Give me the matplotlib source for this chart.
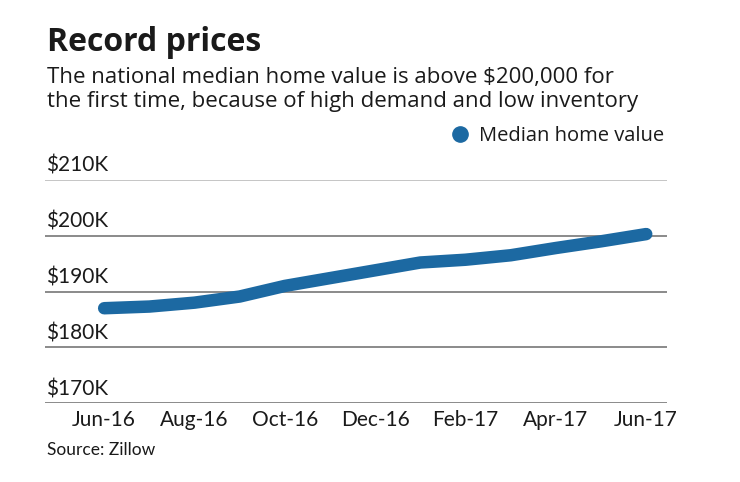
import matplotlib.pyplot as plt
import matplotlib.transforms as mtransforms

# monthly values, Jun-16 .. Jun-17 (thousands of $)
months = ['Jun-16', 'Jul-16', 'Aug-16', 'Sep-16', 'Oct-16', 'Nov-16', 'Dec-16',
          'Jan-17', 'Feb-17', 'Mar-17', 'Apr-17', 'May-17', 'Jun-17']
values = [187.0, 187.3, 188.0, 189.1, 191.0, 192.4, 193.8,
          195.2, 195.7, 196.5, 197.8, 199.0, 200.3]
y_ticks = [170, 180, 190, 200, 210]
y_labels = ['$170K', '$180K', '$190K', '$200K', '$210K']

blue = '#1c69a2'
txt = '#1a1a1a'
plt.rcParams['font.family'] = ['Lato', 'DejaVu Sans']
head = ['Open Sans', 'DejaVu Sans']

fig = plt.figure(figsize=(7.4, 4.82), dpi=100)
ax = fig.add_axes([45 / 740, 1 - 403 / 482, 622 / 740, 223 / 482])

x = list(range(len(months)))
ax.plot(x, values, color=blue, lw=9, solid_capstyle='round', solid_joinstyle='round',
        zorder=3, clip_on=False)

ax.set_xlim(-1.31, 12.46)
ax.set_ylim(170, 210)

for v in y_ticks:
    c = '#bbbbbb' if v == 210 else '#777777'
    ax.axhline(v, color=c, lw=1.2, zorder=1)

# y labels sit above their gridlines, at the left
off = mtransforms.offset_copy(ax.get_yaxis_transform(), fig=fig, x=1, y=4, units='dots')
for v, lab in zip(y_ticks, y_labels):
    ax.text(0, v, lab, transform=off, ha='left', va='bottom', fontsize=15, color=txt)

ax.set_yticks([])
ax.set_xticks(x[::2])
ax.set_xticklabels(months[::2], fontsize=15, color=txt)
ax.tick_params(axis='x', length=0, pad=5)
for s in ax.spines.values():
    s.set_visible(False)

fig.text(47 / 740, 1 - 51 / 482, 'Record prices', fontsize=23, fontweight='bold',
         family=head, color=txt, ha='left', va='baseline')
fig.text(47 / 740, 1 - 83.5 / 482, 'The national median home value is above $200,000 for',
         fontsize=16, family=head, color=txt, ha='left', va='baseline')
fig.text(47 / 740, 1 - 107.5 / 482, 'the first time, because of high demand and low inventory',
         fontsize=16, family=head, color=txt, ha='left', va='baseline')

# legend
fig.text(479 / 740, 1 - 141 / 482, 'Median home value', fontsize=14.5, family=head,
         color=txt, ha='left', va='baseline')
fig.lines.append(plt.Line2D([460 / 740], [1 - 134 / 482], marker='o', ms=11,
                            color=blue, transform=fig.transFigure))

fig.text(47 / 740, 1 - 455 / 482, 'Source: Zillow', fontsize=12.5, color=txt,
         ha='left', va='baseline')

fig.savefig('out.png', dpi=100)
